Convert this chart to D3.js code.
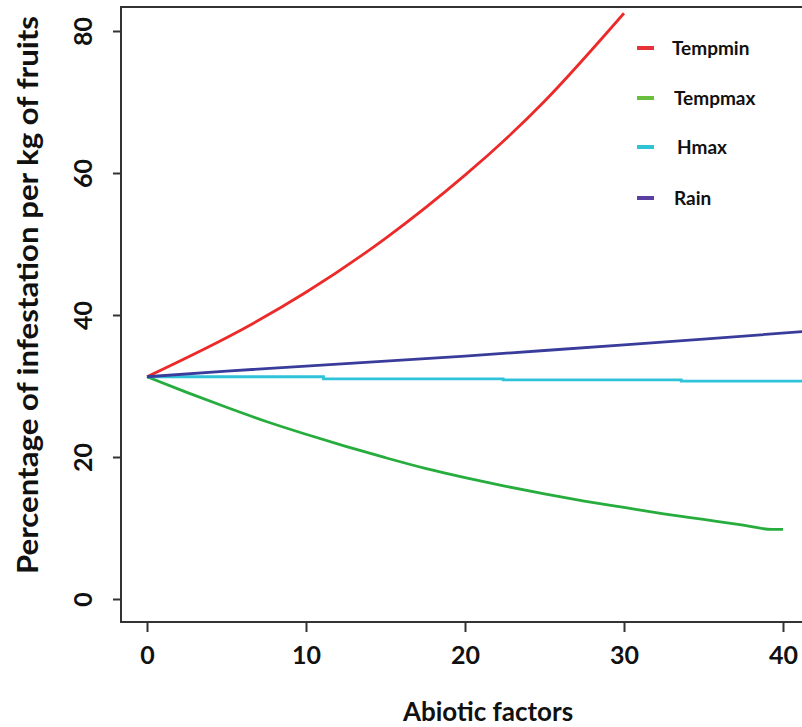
<!DOCTYPE html>
<html>
<head>
<meta charset="utf-8">
<script src="https://cdn.jsdelivr.net/npm/d3@7"></script>
<style>
  body { margin: 0; background: #fff; }
  svg { display: block; }
  text { font-family: Lato, "Open Sans", sans-serif; font-weight: bold; fill: #111; }
</style>
</head>
<body>
<svg id="chart" width="802" height="727"></svg>
<script>
// --- data ---
const xTicks = [0, 10, 20, 30, 40];
const yTicks = [0, 20, 40, 60, 80];

const tempminX = [0, 5, 10, 15, 20, 25, 30];
const tempminY = [31.3, 36.8, 43.2, 50.8, 59.7, 70.1, 82.5];

const tempmaxX = [0, 2.5, 5, 7.5, 10, 12.5, 15, 17.5, 20, 22.5, 25, 27.5, 30, 32.5, 35, 37.5, 39.3, 40];
const tempmaxY = [31.3, 29.1, 27.0, 25.0, 23.2, 21.5, 19.9, 18.4, 17.1, 15.9, 14.8, 13.8, 12.9, 12.0, 11.2, 10.4, 9.8, 9.8];

const hmaxX = [0, 11.1, 22.4, 33.6, 41.5];
const hmaxY = [31.3, 31.0, 30.85, 30.7, 30.7];

const rainX = [0, 5, 10, 15, 20, 25, 30, 35, 41.5];
const rainY = [31.3, 32.1, 32.8, 33.5, 34.2, 35.0, 35.8, 36.6, 37.7];

const seriesNames = ['Tempmin', 'Tempmax', 'Hmax', 'Rain'];
const lineColors = ['#ec2a2a', '#27ad3e', '#2fc3da', '#3a3c9c'];
const legendColors = ['#e8323a', '#6abf3f', '#2fc3d6', '#5a3ea2'];

// --- layout ---
const svg = d3.select('#chart');
const frame = { left: 121, top: 7, right: 806, bottom: 622 };

const x = d3.scaleLinear().domain([0, 40]).range([147, 783]);
const y = d3.scaleLinear().domain([0, 80]).range([599, 31]);

// clip for the plot area
svg.append('defs').append('clipPath').attr('id', 'plot-clip')
  .append('rect')
  .attr('x', frame.left).attr('y', frame.top)
  .attr('width', frame.right - frame.left).attr('height', frame.bottom - frame.top);

// lines
const seriesData = [
  { xs: tempminX, ys: tempminY, curve: d3.curveNatural },
  { xs: tempmaxX, ys: tempmaxY, curve: d3.curveMonotoneX },
  { xs: hmaxX, ys: hmaxY, curve: d3.curveStepAfter },
  { xs: rainX, ys: rainY, curve: d3.curveLinear }
];

const plot = svg.append('g').attr('clip-path', 'url(#plot-clip)');
seriesData.forEach((s, i) => {
  const pts = s.xs.map((v, k) => [v, s.ys[k]]);
  const line = d3.line().x(d => x(d[0])).y(d => y(d[1])).curve(s.curve);
  plot.append('path')
    .attr('d', line(pts))
    .attr('fill', 'none')
    .attr('stroke', lineColors[i])
    .attr('stroke-width', 2.8);
});

// frame (left, bottom, top; right side is cut off)
svg.append('path')
  .attr('d', `M${frame.right},${frame.top}H${frame.left}V${frame.bottom}H${frame.right}`)
  .attr('fill', 'none')
  .attr('stroke', '#333')
  .attr('stroke-width', 2);

// x axis ticks + labels
const xAxis = d3.axisBottom(x).tickValues(xTicks).tickSize(10).tickSizeOuter(0).tickPadding(14);
const gx = svg.append('g').attr('transform', `translate(0,${frame.bottom})`).call(xAxis);
gx.select('.domain').remove();
gx.selectAll('.tick line').attr('stroke', '#333').attr('stroke-width', 2);
gx.selectAll('.tick text')
  .attr('font-size', 25)
  .attr('font-family', 'Lato, sans-serif')
  .attr('font-weight', 'bold')
  .attr('fill', '#111');

// y axis ticks + rotated labels
const yAxis = d3.axisLeft(y).tickValues(yTicks).tickSize(8).tickSizeOuter(0);
const gy = svg.append('g').attr('transform', `translate(${frame.left},0)`).call(yAxis);
gy.select('.domain').remove();
gy.selectAll('.tick line').attr('stroke', '#333').attr('stroke-width', 2);
gy.selectAll('.tick text')
  .attr('x', null).attr('dy', null)
  .attr('text-anchor', 'middle')
  .attr('transform', 'translate(-29,0) rotate(-90)')
  .attr('font-size', 25)
  .attr('font-family', 'Lato, sans-serif')
  .attr('font-weight', 'bold')
  .attr('fill', '#111');

// axis titles
svg.append('text')
  .attr('x', 488).attr('y', 721)
  .attr('text-anchor', 'middle')
  .attr('font-size', 26)
  .text('Abiotic factors');

svg.append('text')
  .attr('transform', 'translate(38,295) rotate(-90)')
  .attr('text-anchor', 'middle')
  .attr('font-size', 28)
  .attr('textLength', 558)
  .attr('lengthAdjust', 'spacingAndGlyphs')
  .text('Percentage of infestation per kg of fruits');

// legend
const legendY = [48, 98, 147, 198];
const legendTextX = [672, 674, 677, 674];
const legend = svg.append('g');
seriesNames.forEach((name, i) => {
  legend.append('line')
    .attr('x1', 637).attr('x2', 654)
    .attr('y1', legendY[i]).attr('y2', legendY[i])
    .attr('stroke', legendColors[i])
    .attr('stroke-width', 4);
  legend.append('text')
    .attr('x', legendTextX[i]).attr('y', legendY[i])
    .attr('dy', '0.35em')
    .attr('font-size', 19)
    .text(name);
});
</script>
</body>
</html>
